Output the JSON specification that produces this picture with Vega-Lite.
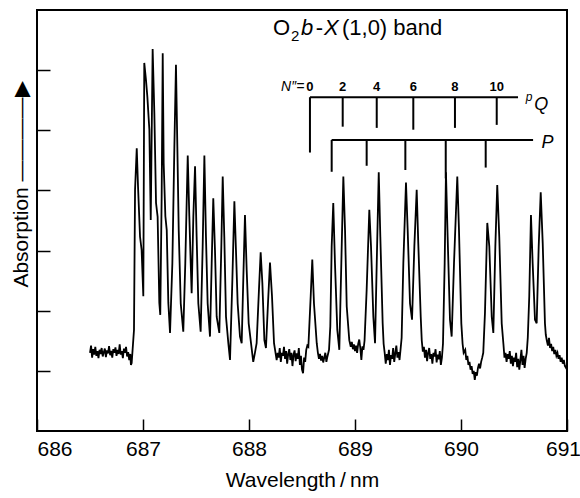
{
  "$schema": "https://vega.github.io/schema/vega-lite/v6.json",
  "width": 530,
  "height": 421,
  "autosize": {"type": "none"},
  "padding": {"left": 37, "top": 10, "right": 13, "bottom": 67},
  "background": "white",
  "config": {
    "view": {"stroke": "black", "strokeWidth": 2},
    "font": "Liberation Sans",
    "axis": {"grid": false, "domain": false, "tickColor": "black", "tickWidth": 1.5, "labelColor": "black", "titleColor": "black", "labelFont": "Liberation Sans", "titleFont": "Liberation Sans", "titleFontWeight": "normal"}
  },
  "datasets": {
    "spectrum": [
      {"w":686.50,"a":1.30},{"w":686.51,"a":1.42},{"w":686.52,"a":1.22},{"w":686.53,"a":1.36},{"w":686.54,"a":1.27},{"w":686.55,"a":1.40},{"w":686.56,"a":1.25},{"w":686.57,"a":1.33},{"w":686.58,"a":1.21},{"w":686.59,"a":1.35},{"w":686.60,"a":1.28},{"w":686.61,"a":1.38},{"w":686.62,"a":1.24},{"w":686.63,"a":1.31},{"w":686.64,"a":1.37},{"w":686.65,"a":1.23},{"w":686.66,"a":1.34},{"w":686.67,"a":1.29},{"w":686.68,"a":1.41},{"w":686.69,"a":1.26},{"w":686.70,"a":1.33},{"w":686.71,"a":1.22},{"w":686.72,"a":1.36},{"w":686.73,"a":1.30},{"w":686.74,"a":1.39},{"w":686.75,"a":1.25},{"w":686.76,"a":1.35},{"w":686.77,"a":1.28},{"w":686.78,"a":1.44},{"w":686.79,"a":1.27},{"w":686.80,"a":1.33},{"w":686.81,"a":1.21},{"w":686.82,"a":1.37},{"w":686.83,"a":1.30},{"w":686.84,"a":1.40},{"w":686.85,"a":1.24},{"w":686.86,"a":1.31},{"w":686.87,"a":1.18},{"w":686.88,"a":1.28},{"w":686.886,"a":1.10},{"w":686.893,"a":1.13},
      {"w":686.915,"a":1.68},{"w":686.925,"a":4.01},{"w":686.941,"a":4.70},{"w":686.953,"a":4.07},{"w":686.972,"a":3.23},{"w":686.987,"a":3.01},{"w":687.003,"a":2.24},{"w":687.012,"a":6.12},{"w":687.028,"a":5.84},{"w":687.041,"a":5.56},{"w":687.060,"a":5.01},{"w":687.073,"a":3.51},{"w":687.079,"a":4.46},{"w":687.091,"a":6.35},{"w":687.107,"a":5.29},{"w":687.123,"a":3.79},{"w":687.138,"a":3.56},{"w":687.154,"a":2.13},{"w":687.163,"a":1.93},{"w":687.176,"a":3.90},{"w":687.186,"a":6.28},{"w":687.195,"a":4.45},{"w":687.211,"a":3.57},{"w":687.224,"a":3.34},{"w":687.239,"a":2.13},{"w":687.255,"a":1.63},{"w":687.277,"a":2.79},{"w":687.296,"a":4.73},{"w":687.311,"a":6.09},{"w":687.324,"a":4.73},{"w":687.337,"a":3.34},{"w":687.356,"a":2.12},{"w":687.380,"a":1.65},{"w":687.399,"a":2.79},{"w":687.422,"a":4.58},{"w":687.437,"a":3.57},{"w":687.450,"a":2.79},{"w":687.459,"a":2.29},{"w":687.475,"a":3.57},{"w":687.491,"a":4.40},{"w":687.506,"a":3.23},{"w":687.522,"a":2.12},{"w":687.544,"a":1.65},{"w":687.563,"a":3.07},{"w":687.579,"a":4.58},{"w":687.594,"a":3.23},{"w":687.610,"a":2.12},{"w":687.632,"a":1.57},{"w":687.648,"a":2.79},{"w":687.663,"a":3.87},{"w":687.679,"a":3.01},{"w":687.695,"a":1.90},{"w":687.720,"a":1.63},{"w":687.739,"a":3.07},{"w":687.752,"a":4.23},{"w":687.767,"a":3.23},{"w":687.783,"a":1.90},{"w":687.805,"a":1.46},{"w":687.821,"a":1.18},{"w":687.843,"a":2.51},{"w":687.862,"a":3.82},{"w":687.877,"a":3.01},{"w":687.893,"a":2.12},{"w":687.915,"a":1.57},{"w":687.931,"a":1.46},{"w":687.946,"a":2.51},{"w":687.962,"a":3.59},{"w":687.978,"a":2.68},{"w":687.997,"a":1.79},{"w":688.019,"a":1.46},{"w":688.040,"a":1.15},{"w":688.056,"a":1.30},{"w":688.072,"a":1.46},{"w":688.094,"a":2.35},{"w":688.110,"a":2.97},{"w":688.126,"a":2.46},{"w":688.145,"a":1.51},{"w":688.160,"a":1.38},{"w":688.179,"a":2.12},{"w":688.198,"a":2.80},{"w":688.217,"a":2.24},{"w":688.236,"a":1.46},{"w":688.261,"a":1.18},
      {"w":688.27,"a":1.30},{"w":688.28,"a":1.22},{"w":688.29,"a":1.38},{"w":688.30,"a":1.15},{"w":688.31,"a":1.30},{"w":688.32,"a":1.25},{"w":688.33,"a":1.40},{"w":688.34,"a":1.20},{"w":688.35,"a":1.33},{"w":688.36,"a":1.12},{"w":688.37,"a":1.28},{"w":688.38,"a":1.36},{"w":688.39,"a":1.18},{"w":688.40,"a":1.30},{"w":688.41,"a":1.08},{"w":688.42,"a":1.27},{"w":688.43,"a":1.34},{"w":688.44,"a":1.16},{"w":688.45,"a":1.29},{"w":688.46,"a":1.20},{"w":688.47,"a":1.38},{"w":688.48,"a":1.10},{"w":688.49,"a":1.25},{"w":688.50,"a":1.02},{"w":688.51,"a":0.96},{"w":688.52,"a":1.22},{"w":688.53,"a":1.15},{"w":688.54,"a":1.35},{"w":688.55,"a":1.42},
      {"w":688.560,"a":1.40},{"w":688.582,"a":2.24},{"w":688.597,"a":2.85},{"w":688.613,"a":2.12},{"w":688.639,"a":1.46},{"w":688.65,"a":1.30},{"w":688.66,"a":1.20},{"w":688.67,"a":1.28},{"w":688.68,"a":1.17},{"w":688.69,"a":1.25},{"w":688.70,"a":1.14},{"w":688.71,"a":1.22},{"w":688.72,"a":1.30},{"w":688.73,"a":1.15},{"w":688.74,"a":1.24},{"w":688.755,"a":1.35},{"w":688.767,"a":1.74},{"w":688.780,"a":3.07},{"w":688.795,"a":3.79},{"w":688.811,"a":2.79},{"w":688.833,"a":1.68},{"w":688.852,"a":1.35},{"w":688.871,"a":2.79},{"w":688.890,"a":4.23},{"w":688.906,"a":3.34},{"w":688.922,"a":2.07},{"w":688.946,"a":1.51},
      {"w":688.96,"a":1.40},{"w":688.97,"a":1.48},{"w":688.98,"a":1.36},{"w":688.99,"a":1.44},{"w":689.00,"a":1.33},{"w":689.01,"a":1.42},{"w":689.02,"a":1.30},{"w":689.03,"a":1.45},{"w":689.04,"a":1.52},{"w":689.05,"a":1.38},{"w":689.06,"a":1.18},{"w":689.07,"a":1.41},{"w":689.08,"a":1.35},{"w":689.09,"a":1.50},
      {"w":689.110,"a":2.35},{"w":689.135,"a":3.68},{"w":689.151,"a":3.07},{"w":689.173,"a":1.90},{"w":689.189,"a":1.46},{"w":689.205,"a":2.79},{"w":689.224,"a":4.30},{"w":689.239,"a":3.23},{"w":689.261,"a":1.79},
      {"w":689.27,"a":1.45},{"w":689.28,"a":1.30},{"w":689.29,"a":1.12},{"w":689.30,"a":1.28},{"w":689.31,"a":1.18},{"w":689.32,"a":1.35},{"w":689.33,"a":1.10},{"w":689.34,"a":1.26},{"w":689.35,"a":1.20},{"w":689.36,"a":1.38},{"w":689.37,"a":1.15},{"w":689.38,"a":1.29},{"w":689.39,"a":1.42},{"w":689.40,"a":1.22},{"w":689.41,"a":1.31},{"w":689.42,"a":1.18},{"w":689.43,"a":1.36},{"w":689.44,"a":1.55},
      {"w":689.456,"a":2.79},{"w":689.481,"a":4.13},{"w":689.497,"a":3.34},{"w":689.519,"a":2.12},{"w":689.538,"a":1.85},{"w":689.560,"a":3.07},{"w":689.582,"a":4.01},{"w":689.597,"a":3.12},{"w":689.620,"a":1.90},
      {"w":689.63,"a":1.50},{"w":689.64,"a":1.32},{"w":689.65,"a":1.40},{"w":689.66,"a":1.22},{"w":689.67,"a":1.35},{"w":689.68,"a":1.16},{"w":689.69,"a":1.30},{"w":689.70,"a":1.38},{"w":689.71,"a":1.20},{"w":689.72,"a":1.28},{"w":689.73,"a":1.12},{"w":689.74,"a":1.30},{"w":689.75,"a":1.24},{"w":689.76,"a":1.36},{"w":689.77,"a":1.14},{"w":689.78,"a":1.27},{"w":689.79,"a":1.19},{"w":689.80,"a":1.33},{"w":689.81,"a":1.10},{"w":689.82,"a":1.22},{"w":689.83,"a":1.45},
      {"w":689.846,"a":2.79},{"w":689.858,"a":4.30},{"w":689.874,"a":3.23},{"w":689.896,"a":1.85},{"w":689.912,"a":1.57},{"w":689.934,"a":2.79},{"w":689.965,"a":4.23},{"w":689.981,"a":3.34},{"w":690.003,"a":1.79},
      {"w":690.015,"a":1.45},{"w":690.025,"a":1.30},{"w":690.04,"a":1.35},{"w":690.05,"a":1.18},{"w":690.06,"a":1.25},{"w":690.07,"a":1.10},{"w":690.08,"a":1.15},{"w":690.09,"a":1.02},{"w":690.10,"a":1.08},{"w":690.11,"a":0.95},{"w":690.12,"a":1.00},{"w":690.13,"a":0.85},{"w":690.14,"a":0.98},{"w":690.15,"a":0.92},{"w":690.16,"a":1.05},{"w":690.17,"a":1.12},{"w":690.18,"a":1.04},{"w":690.19,"a":1.15},{"w":690.20,"a":1.22},{"w":690.21,"a":1.30},
      {"w":690.226,"a":1.96},{"w":690.248,"a":3.46},{"w":690.267,"a":3.07},{"w":690.290,"a":1.90},{"w":690.305,"a":1.63},{"w":690.324,"a":3.07},{"w":690.342,"a":4.09},{"w":690.361,"a":3.23},{"w":690.384,"a":1.79},
      {"w":690.40,"a":1.45},{"w":690.41,"a":1.22},{"w":690.42,"a":1.30},{"w":690.43,"a":1.15},{"w":690.44,"a":1.28},{"w":690.45,"a":1.20},{"w":690.46,"a":1.33},{"w":690.47,"a":1.12},{"w":690.48,"a":1.25},{"w":690.49,"a":1.08},{"w":690.50,"a":1.22},{"w":690.51,"a":1.15},{"w":690.52,"a":1.30},{"w":690.53,"a":1.06},{"w":690.54,"a":1.20},{"w":690.55,"a":1.02},{"w":690.56,"a":1.18},{"w":690.57,"a":1.35},{"w":690.58,"a":1.10},{"w":690.59,"a":1.25},{"w":690.60,"a":1.05},{"w":690.61,"a":1.20},{"w":690.62,"a":1.30},{"w":690.63,"a":1.55},
      {"w":690.644,"a":2.24},{"w":690.660,"a":3.59},{"w":690.676,"a":2.79},{"w":690.698,"a":1.85},{"w":690.714,"a":1.79},{"w":690.733,"a":3.07},{"w":690.752,"a":3.97},{"w":690.771,"a":3.12},{"w":690.792,"a":1.79},
      {"w":690.80,"a":1.60},{"w":690.81,"a":1.50},{"w":690.82,"a":1.42},{"w":690.83,"a":1.55},{"w":690.84,"a":1.38},{"w":690.85,"a":1.45},{"w":690.86,"a":1.33},{"w":690.87,"a":1.40},{"w":690.88,"a":1.28},{"w":690.89,"a":1.35},{"w":690.90,"a":1.25},{"w":690.91,"a":1.30},{"w":690.92,"a":1.20},{"w":690.93,"a":1.26},{"w":690.94,"a":1.15},{"w":690.95,"a":1.22},{"w":690.96,"a":1.12},{"w":690.97,"a":1.18},{"w":690.98,"a":1.08},{"w":690.99,"a":1.05},{"w":690.997,"a":1.09}
    ],
    "brackets": [
      {"w1":688.575,"w2":690.538,"a1":5.55,"a2":5.55},
      {"w1":688.575,"w2":688.575,"a1":5.55,"a2":4.63},
      {"w1":688.884,"w2":688.884,"a1":5.55,"a2":5.06},
      {"w1":689.205,"w2":689.205,"a1":5.55,"a2":5.04},
      {"w1":689.550,"w2":689.550,"a1":5.55,"a2":5.01},
      {"w1":689.943,"w2":689.943,"a1":5.55,"a2":5.04},
      {"w1":690.337,"w2":690.337,"a1":5.55,"a2":5.09},
      {"w1":688.780,"w2":690.680,"a1":4.84,"a2":4.84},
      {"w1":688.780,"w2":688.780,"a1":4.84,"a2":4.31},
      {"w1":689.110,"w2":689.110,"a1":4.84,"a2":4.41},
      {"w1":689.475,"w2":689.475,"a1":4.84,"a2":4.34},
      {"w1":689.856,"w2":689.856,"a1":4.84,"a2":4.20},
      {"w1":690.233,"w2":690.233,"a1":4.84,"a2":4.38}
    ]
  },
  "encoding": {
    "x": {"field": "w", "type": "quantitative", "scale": {"domain": [686, 691], "nice": false, "zero": false},
      "axis": {"values": [686, 687, 688, 689, 690, 691], "format": "d", "tickSize": -12, "labelFontSize": 21, "labelPadding": 19,
        "labelAlign": {"condition": {"test": "datum.value == 686", "value": "left"}, "value": "center"},
        "labelOffset": {"condition": {"test": "datum.value == 691", "value": -4}, "value": 0},
        "title": "Wavelength\u2009/\u2009nm", "titleFontSize": 21, "titleY": 55, "titleBaseline": "alphabetic"}},
    "y": {"field": "a", "type": "quantitative", "scale": {"domain": [0, 7], "nice": false, "zero": false},
      "axis": {"values": [1, 2, 3, 4, 5, 6], "labels": false, "tickSize": -13,
        "title": "Absorption \u2014\u2014\u2014\u2014\u25B6", "titleFontSize": 21, "titleX": -16, "titleY": 174, "titleAngle": -90, "titleAlign": "center", "titleBaseline": "middle"}}
  },
  "layer": [
    {"data": {"name": "spectrum"}, "mark": {"type": "line", "color": "black", "strokeWidth": 1.8, "clip": true}},
    {"data": {"name": "brackets"}, "mark": {"type": "rule", "color": "black", "strokeWidth": 2},
      "encoding": {"x": {"field": "w1", "type": "quantitative"}, "x2": {"field": "w2"}, "y": {"field": "a1", "type": "quantitative"}, "y2": {"field": "a2"}}},
    {"data": {"values": [{"t": "O", "w": 688.226, "a": 6.59}, {"t": "-", "w": 688.63, "a": 6.59}, {"t": "(1,0) band", "w": 688.877, "a": 6.59}]},
      "mark": {"type": "text", "align": "left", "baseline": "alphabetic", "fontSize": 22, "color": "black"},
      "encoding": {"text": {"field": "t"}}},
    {"data": {"values": [{"t": "b", "w": 688.49, "a": 6.59}, {"t": "X", "w": 688.708, "a": 6.59}]},
      "mark": {"type": "text", "align": "left", "baseline": "alphabetic", "fontSize": 22, "fontStyle": "italic", "color": "black"},
      "encoding": {"text": {"field": "t"}}},
    {"data": {"values": [{"t": "2", "w": 688.396, "a": 6.49}]},
      "mark": {"type": "text", "align": "left", "baseline": "alphabetic", "fontSize": 15, "color": "black"},
      "encoding": {"text": {"field": "t"}}},
    {"data": {"values": [{"t": "0", "w": 688.575, "a": 5.65}, {"t": "2", "w": 688.884, "a": 5.65}, {"t": "4", "w": 689.205, "a": 5.65}, {"t": "6", "w": 689.55, "a": 5.65}, {"t": "8", "w": 689.943, "a": 5.65}, {"t": "10", "w": 690.337, "a": 5.65}]},
      "mark": {"type": "text", "align": "center", "baseline": "alphabetic", "fontSize": 13, "fontWeight": "bold", "color": "black"},
      "encoding": {"text": {"field": "t"}}},
    {"data": {"values": [{"t": "N\u2033=", "w": 688.522, "a": 5.65}]},
      "mark": {"type": "text", "align": "right", "baseline": "alphabetic", "fontSize": 14, "fontStyle": "italic", "color": "black"},
      "encoding": {"text": {"field": "t"}}},
    {"data": {"values": [{"t": "Q", "w": 690.69, "a": 5.34}, {"t": "P", "w": 690.76, "a": 4.71}]},
      "mark": {"type": "text", "align": "left", "baseline": "alphabetic", "fontSize": 18, "fontStyle": "italic", "color": "black"},
      "encoding": {"text": {"field": "t"}}},
    {"data": {"values": [{"t": "p", "w": 690.61, "a": 5.49}]},
      "mark": {"type": "text", "align": "left", "baseline": "alphabetic", "fontSize": 12, "fontStyle": "italic", "color": "black"},
      "encoding": {"text": {"field": "t"}}}
  ]
}
